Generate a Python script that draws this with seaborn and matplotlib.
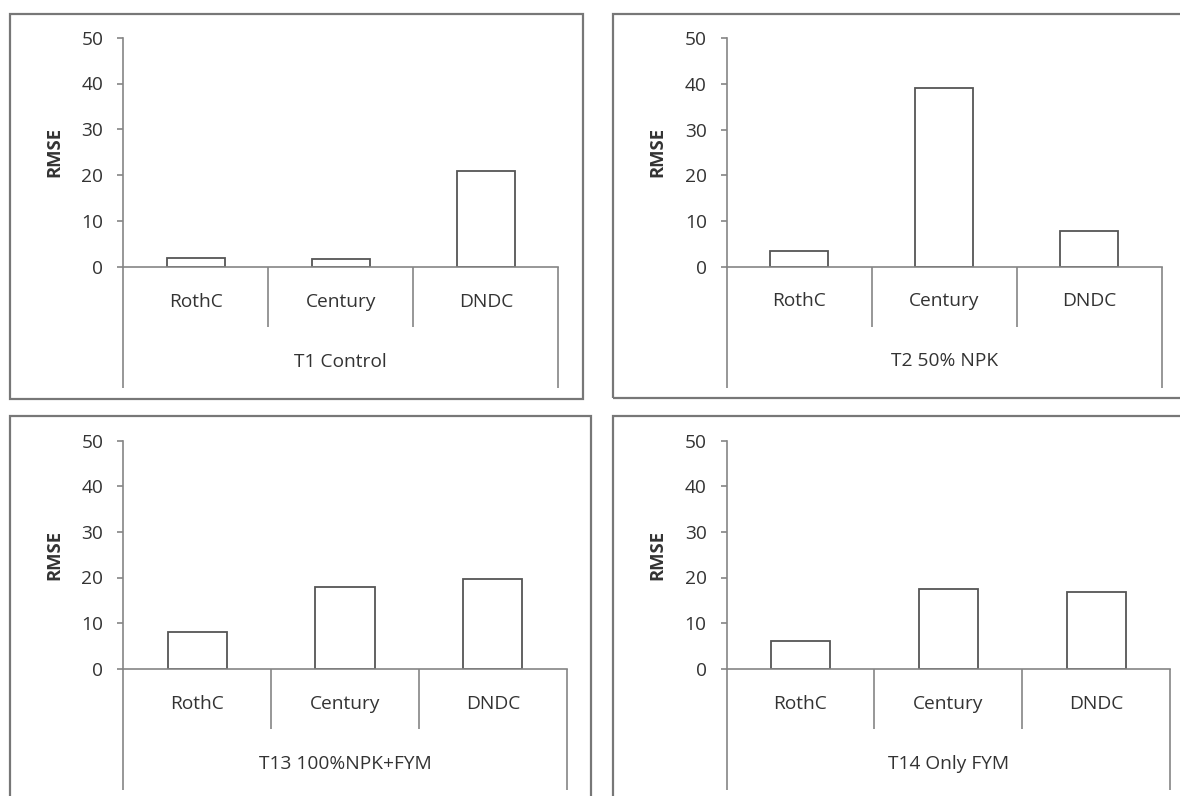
import matplotlib
matplotlib.use("Agg")
import matplotlib.pyplot as plt
import seaborn as sns
from matplotlib.patches import Rectangle

# Model RMSE per treatment
models = ["RothC", "Century", "DNDC"]
treatments = ["T1 Control", "T2 50% NPK", "T13 100%NPK+FYM", "T14 Only FYM"]
rmse_t1 = [1.8, 1.7, 20.8]
rmse_t2 = [3.3, 39.1, 7.8]
rmse_t13 = [8.0, 17.9, 19.7]
rmse_t14 = [6.1, 17.5, 16.8]
y_ticks = [0, 10, 20, 30, 40, 50]
y_label = "RMSE"

sns.set_style("white")
plt.rcParams["font.family"] = ["Open Sans", "DejaVu Sans"]

W, H = 1180, 796
TEXT = "#333333"
AXIS = "#858585"
BAR_EDGE = "#555555"
FRAME = "#777777"

fig = plt.figure(figsize=(W / 100, H / 100), dpi=100)

# (axes box: left, top, right, zero-line) and (frame box) in pixels from top-left
layout = [
    ((123.3, 37.7, 558.3, 266.7), (10, 14, 582.7, 399)),
    ((726.7, 38.3, 1161.7, 266.5), (613, 14, 1210, 398.3)),
    ((123.3, 440.7, 566.7, 668.7), (10, 416, 590.7, 830)),
    ((726.5, 440.7, 1170, 668.7), (612.7, 416, 1210, 830)),
]
series = [rmse_t1, rmse_t2, rmse_t13, rmse_t14]


def fig_rect(l, t, r, b):
    return [l / W, 1 - b / H, (r - l) / W, (b - t) / H]


for (abox, fbox), values, group in zip(layout, series, treatments):
    # outer chart frame
    fl, ft, fr, fb = fbox
    fig.add_artist(Rectangle((fl / W, 1 - fb / H), (fr - fl) / W, (fb - ft) / H,
                             transform=fig.transFigure, fill=False,
                             edgecolor=FRAME, linewidth=1.6))

    ax = fig.add_axes(fig_rect(*abox))
    ax.patch.set_alpha(0)
    sns.barplot(x=models, y=values, ax=ax, color="white", saturation=1,
                edgecolor=BAR_EDGE, linewidth=1.3, width=0.4)
    ax.set_xlim(-0.5, len(models) - 0.5)
    ax.set_ylim(y_ticks[0], y_ticks[-1])
    ax.set_yticks(y_ticks)

    for side in ("top", "right"):
        ax.spines[side].set_visible(False)
    for side in ("left", "bottom"):
        ax.spines[side].set_color(AXIS)
        ax.spines[side].set_linewidth(1.2)

    ax.tick_params(axis="y", direction="out", length=4.3, width=1.2, color=AXIS,
                   pad=10, labelsize=13.8, labelcolor=TEXT, left=True)
    ax.tick_params(axis="x", length=0, pad=25.2, labelsize=13.8, labelcolor=TEXT)
    for lbl in ax.get_xticklabels():
        lbl.set_va("center")
    ax.set_xlabel("")

    ax.set_ylabel(y_label, fontsize=13.3, fontweight="bold", color=TEXT)
    ax_w = abox[2] - abox[0]
    ax_h = abox[3] - abox[1]
    ax.yaxis.set_label_coords(-69 / ax_w, 0.5)
    ax.yaxis.label.set_va("center")

    # multi-level category axis: dividers below the zero line
    xt = ax.get_xaxis_transform()
    n = len(models)
    for i in range(n + 1):
        edge = i - 0.5
        depth = 121 if i in (0, n) else 60
        ax.plot([edge, edge], [0, -depth / ax_h], transform=xt, color=AXIS,
                linewidth=1.2, clip_on=False, solid_capstyle="butt")

    # treatment label under the categories
    ax.text((n - 1) / 2, -95 / ax_h, group, transform=xt, ha="center", va="center",
            fontsize=13.8, color=TEXT)

fig.savefig("out.png", dpi=100, facecolor="white")
